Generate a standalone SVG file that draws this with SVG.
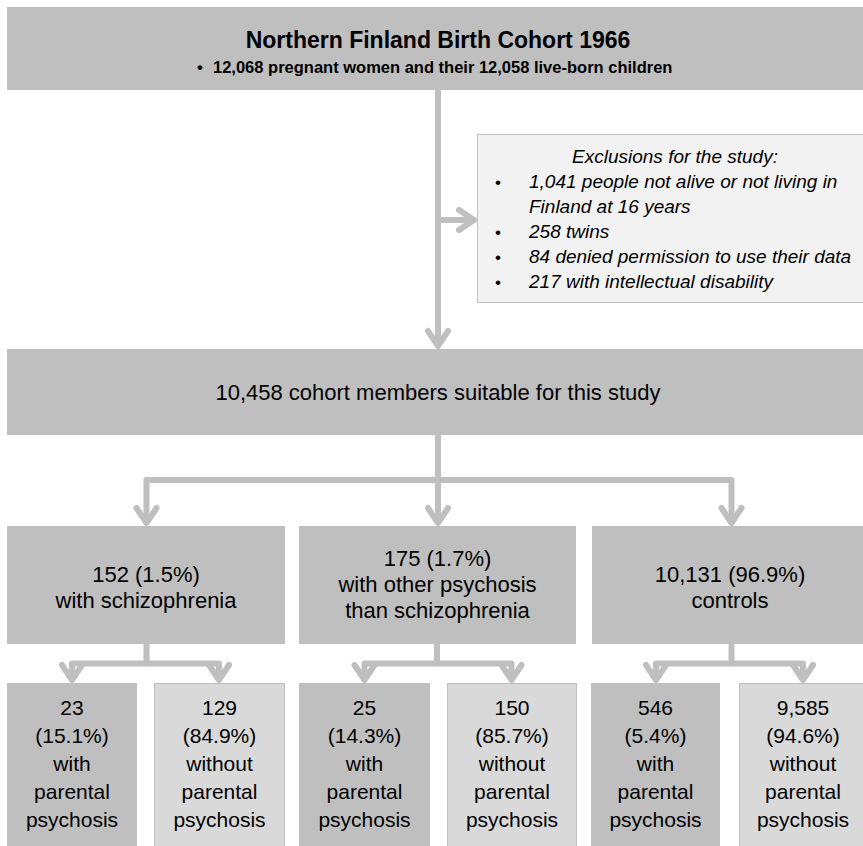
<svg xmlns="http://www.w3.org/2000/svg" width="863" height="846" viewBox="0 0 863 846">
<style>
text{font-family:"Liberation Sans",Arial,sans-serif;fill:#000}
.dark{fill:#bfbfbf}
.light{fill:#d9d9d9;stroke:#bfbfbf;stroke-width:1}
.excl{fill:#f2f2f2;stroke:#bfbfbf;stroke-width:1}
.con{fill:none;stroke:#bfbfbf;stroke-width:6;stroke-linejoin:round}
.arr{marker-end:url(#ah)}
.t22{font-size:22px;text-anchor:middle}
.t21{font-size:21px;text-anchor:middle}
.it{font-size:19px;font-style:italic}
</style>
<defs>
<marker id="ah" viewBox="-22 -14 24 28" markerWidth="24" markerHeight="28" refX="-5" refY="0" orient="auto" markerUnits="userSpaceOnUse">
<path d="M-18,-10 L-3,0 L-18,10" fill="none" stroke="#bfbfbf" stroke-width="6" stroke-linecap="round" stroke-linejoin="round"/>
</marker>
</defs>
<rect width="863" height="846" fill="#fff"/>
<g id="connectors">
<path class="con arr" d="M438,90 V344"/>
<path class="con arr" d="M438,220 H472"/>
<path class="con arr" d="M438,435 V521"/>
<path class="con arr" d="M438,480 H146.5 V521"/>
<path class="con arr" d="M438,480 H731.5 V521"/>
<path class="con arr" d="M146.5,644 V663.5 H72 V678"/>
<path class="con arr" d="M146.5,663.5 H219 V678"/>
<path class="con arr" d="M437,644 V663.5 H364.5 V678"/>
<path class="con arr" d="M437,663.5 H511.5 V678"/>
<path class="con arr" d="M731.5,644 V663.5 H656 V678"/>
<path class="con arr" d="M731.5,663.5 H803 V678"/>
</g>
<g id="cohort">
<rect class="dark" x="7" y="7" width="870" height="83"/>
<text x="438" y="48" font-size="23" font-weight="bold" text-anchor="middle">Northern Finland Birth Cohort 1966</text>
<text x="197" y="73" font-size="16.5" font-weight="bold">•</text>
<text x="213" y="73" font-size="16.5" font-weight="bold">12,068 pregnant women and their 12,058 live-born children</text>
</g>
<g id="exclusions">
<rect class="excl" x="477.5" y="134.5" width="400" height="168"/>
<text class="it" x="675" y="163" text-anchor="middle">Exclusions for the study:</text>
<text x="495" y="188" font-size="17">•</text>
<text class="it" x="529" y="188">1,041 people not alive or not living in</text>
<text class="it" x="529" y="213">Finland at 16 years</text>
<text x="495" y="238" font-size="17">•</text>
<text class="it" x="529" y="238">258 twins</text>
<text x="495" y="263" font-size="17">•</text>
<text class="it" x="529" y="263">84 denied permission to use their data</text>
<text x="495" y="288" font-size="17">•</text>
<text class="it" x="529" y="288">217 with intellectual disability</text>
</g>
<g id="suitable">
<rect class="dark" x="7" y="349" width="870" height="86"/>
<text class="t22" x="438" y="400">10,458 cohort members suitable for this study</text>
</g>
<g id="schizophrenia">
<rect class="dark" x="7" y="526" width="278" height="118"/>
<text class="t22" x="146" y="582">152 (1.5%)</text>
<text class="t22" x="146" y="608">with schizophrenia</text>
</g>
<g id="otherpsychosis">
<rect class="dark" x="299" y="526" width="277" height="118"/>
<text class="t22" x="437.5" y="566">175 (1.7%)</text>
<text class="t22" x="437.5" y="592">with other psychosis</text>
<text class="t22" x="437.5" y="618">than schizophrenia</text>
</g>
<g id="controls">
<rect class="dark" x="592" y="526" width="280" height="118"/>
<text class="t22" x="730" y="582">10,131 (96.9%)</text>
<text class="t22" x="730" y="608">controls</text>
</g>
<g id="schiz-with">
<rect class="dark" x="7" y="683" width="130" height="170"/>
<text class="t21" x="72" y="715">23</text>
<text class="t21" x="72" y="743">(15.1%)</text>
<text class="t21" x="72" y="771">with</text>
<text class="t21" x="72" y="799">parental</text>
<text class="t21" x="72" y="827">psychosis</text>
</g>
<g id="schiz-without">
<rect class="light" x="154.5" y="683.5" width="130" height="170"/>
<text class="t21" x="219.5" y="715">129</text>
<text class="t21" x="219.5" y="743">(84.9%)</text>
<text class="t21" x="219.5" y="771">without</text>
<text class="t21" x="219.5" y="799">parental</text>
<text class="t21" x="219.5" y="827">psychosis</text>
</g>
<g id="other-with">
<rect class="dark" x="299" y="683" width="131" height="170"/>
<text class="t21" x="364.5" y="715">25</text>
<text class="t21" x="364.5" y="743">(14.3%)</text>
<text class="t21" x="364.5" y="771">with</text>
<text class="t21" x="364.5" y="799">parental</text>
<text class="t21" x="364.5" y="827">psychosis</text>
</g>
<g id="other-without">
<rect class="light" x="447.5" y="683.5" width="129" height="170"/>
<text class="t21" x="512" y="715">150</text>
<text class="t21" x="512" y="743">(85.7%)</text>
<text class="t21" x="512" y="771">without</text>
<text class="t21" x="512" y="799">parental</text>
<text class="t21" x="512" y="827">psychosis</text>
</g>
<g id="controls-with">
<rect class="dark" x="591" y="683" width="129" height="170"/>
<text class="t21" x="655.5" y="715">546</text>
<text class="t21" x="655.5" y="743">(5.4%)</text>
<text class="t21" x="655.5" y="771">with</text>
<text class="t21" x="655.5" y="799">parental</text>
<text class="t21" x="655.5" y="827">psychosis</text>
</g>
<g id="controls-without">
<rect class="light" x="739.5" y="683.5" width="130" height="170"/>
<text class="t21" x="803" y="715">9,585</text>
<text class="t21" x="803" y="743">(94.6%)</text>
<text class="t21" x="803" y="771">without</text>
<text class="t21" x="803" y="799">parental</text>
<text class="t21" x="803" y="827">psychosis</text>
</g>
</svg>
